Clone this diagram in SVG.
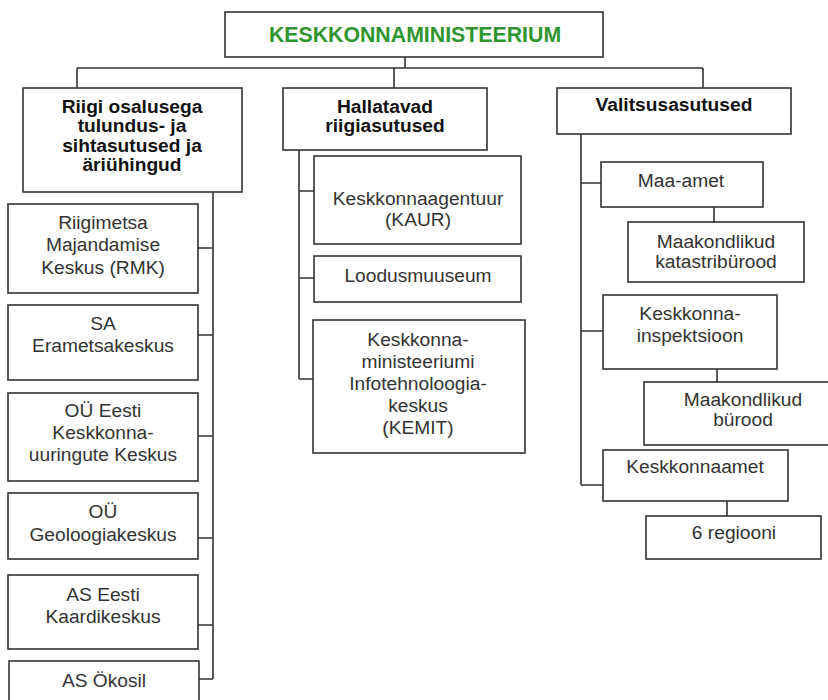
<svg xmlns="http://www.w3.org/2000/svg" width="828" height="700" viewBox="0 0 828 700">
<style>
.box{fill:#fff;stroke:#333;stroke-width:1.6}
.c{fill:none;stroke:#333;stroke-width:1.6}
.t{font-family:"Liberation Sans",Arial,sans-serif;font-size:19.2px;fill:#333;text-anchor:middle}
.b{font-family:"Liberation Sans",Arial,sans-serif;font-size:19.2px;font-weight:bold;fill:#111;text-anchor:middle}
.title{font-family:"Liberation Sans",Arial,sans-serif;font-size:21.3px;font-weight:bold;fill:#2f962f;text-anchor:middle}
</style>
<rect width="828" height="700" fill="#fff"/>
<g id="connectors">
<path class="c" d="M405 57V68M77 68H703M77 68V88M394 68V88M703 68V88"/>
<path class="c" d="M213 192V679M198 248H213M198 335H213M198 436H213M198 538H213M198 625H213M199 679H213"/>
<path class="c" d="M299 150V379M299 191H314M299 278H314M299 379H313"/>
<path class="c" d="M581 134V485M581 183H601M581 331H603M581 485H603M714 207V222M717 369V382M727 501V516"/>
</g>
<g id="ministeerium"><rect class="box" x="225" y="12" width="378" height="45"/><text class="title" x="415" y="42">KESKKONNAMINISTEERIUM</text></g>
<g id="riigi-osalusega"><rect class="box" x="23" y="88" width="219" height="104"/>
<text class="b" x="132" y="113">Riigi osalusega</text><text class="b" x="132" y="132">tulundus- ja</text><text class="b" x="132" y="152">sihtasutused ja</text><text class="b" x="132" y="171">äriühingud</text></g>
<g id="hallatavad"><rect class="box" x="283" y="88" width="204" height="62"/>
<text class="b" x="385" y="113">Hallatavad</text><text class="b" x="385" y="132">riigiasutused</text></g>
<g id="valitsusasutused"><rect class="box" x="557" y="88" width="234" height="46"/>
<text class="b" x="674" y="111">Valitsusasutused</text></g>
<g id="rmk"><rect class="box" x="8" y="204" width="190" height="89"/>
<text class="t" x="103" y="229">Riigimetsa</text><text class="t" x="103" y="251">Majandamise</text><text class="t" x="103" y="274">Keskus (RMK)</text></g>
<g id="erametsakeskus"><rect class="box" x="8" y="305" width="190" height="75"/>
<text class="t" x="103" y="330">SA</text><text class="t" x="103" y="352">Erametsakeskus</text></g>
<g id="keskkonnauuringute"><rect class="box" x="8" y="393" width="190" height="88"/>
<text class="t" x="103" y="417">OÜ Eesti</text><text class="t" x="103" y="439">Keskkonna-</text><text class="t" x="103" y="461">uuringute Keskus</text></g>
<g id="geoloogiakeskus"><rect class="box" x="8" y="493" width="190" height="66"/>
<text class="t" x="103" y="518">OÜ</text><text class="t" x="103" y="541">Geoloogiakeskus</text></g>
<g id="kaardikeskus"><rect class="box" x="8" y="575" width="190" height="74"/>
<text class="t" x="103" y="601">AS Eesti</text><text class="t" x="103" y="623">Kaardikeskus</text></g>
<g id="okosil"><rect class="box" x="9" y="661" width="190" height="60"/>
<text class="t" x="104" y="687">AS Ökosil</text></g>
<g id="kaur"><rect class="box" x="314" y="156" width="207" height="88"/>
<text class="t" x="418" y="205">Keskkonnaagentuur</text><text class="t" x="418" y="226">(KAUR)</text></g>
<g id="loodusmuuseum"><rect class="box" x="314" y="256" width="207" height="46"/>
<text class="t" x="418" y="282">Loodusmuuseum</text></g>
<g id="kemit"><rect class="box" x="313" y="320" width="212" height="133"/>
<text class="t" x="418" y="346">Keskkonna-</text><text class="t" x="418" y="368">ministeeriumi</text><text class="t" x="418" y="390">Infotehnoloogia-</text><text class="t" x="418" y="412">keskus</text><text class="t" x="418" y="434">(KEMIT)</text></g>
<g id="maa-amet"><rect class="box" x="601" y="162" width="162" height="45"/>
<text class="t" x="681" y="187">Maa-amet</text></g>
<g id="katastribyrood"><rect class="box" x="628" y="222" width="176" height="60"/>
<text class="t" x="716" y="248">Maakondlikud</text><text class="t" x="716" y="268">katastribürood</text></g>
<g id="inspektsioon"><rect class="box" x="603" y="295" width="174" height="74"/>
<text class="t" x="690" y="320">Keskkonna-</text><text class="t" x="690" y="342">inspektsioon</text></g>
<g id="maakondlikud-byrood"><rect class="box" x="644" y="382" width="200" height="63"/>
<text class="t" x="743" y="406">Maakondlikud</text><text class="t" x="743" y="426">bürood</text></g>
<g id="keskkonnaamet"><rect class="box" x="603" y="450" width="185" height="51"/>
<text class="t" x="695" y="473">Keskkonnaamet</text></g>
<g id="regioonid"><rect class="box" x="646" y="516" width="175" height="43"/>
<text class="t" x="734" y="539">6 regiooni</text></g>
</svg>
